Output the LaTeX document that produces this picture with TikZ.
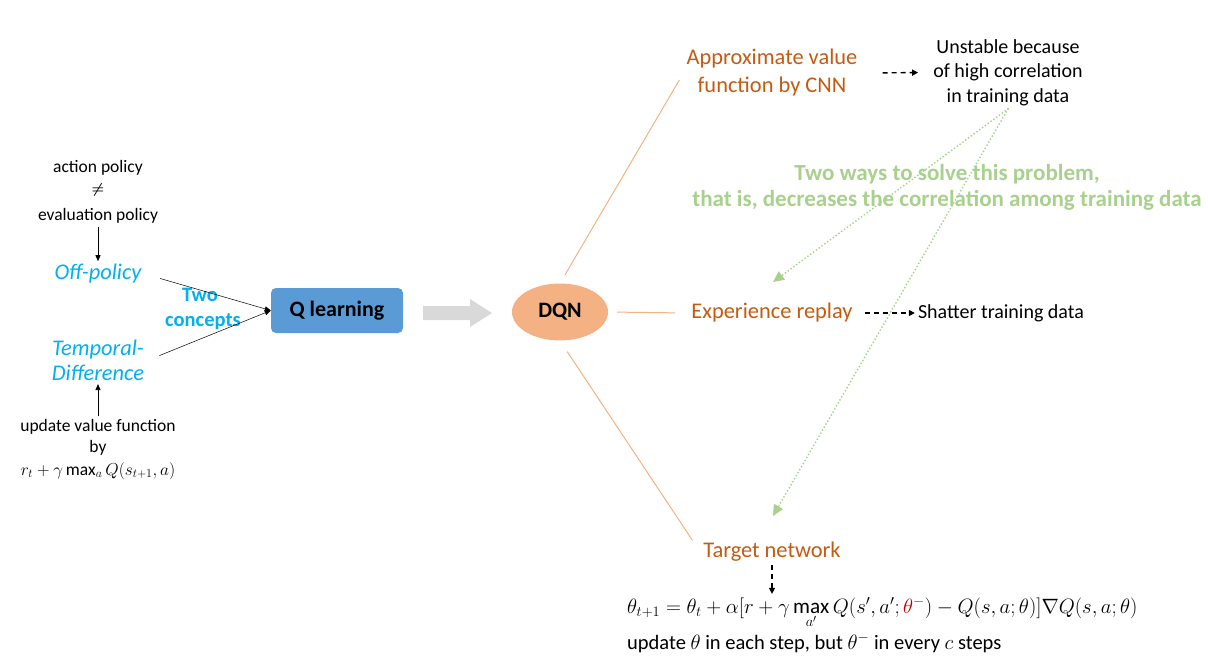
\documentclass[tikz,border=0pt]{standalone}
\usepackage{fontspec}
\setmainfont{Carlito}
\usepackage{amsmath}
\usetikzlibrary{arrows.meta,shapes.geometric}
\definecolor{qblue}{HTML}{5B9BD5}
\definecolor{cblue}{HTML}{00B0F0}
\definecolor{dqnor}{HTML}{F4B183}
\definecolor{otxt}{HTML}{C55A11}
\definecolor{oln}{HTML}{F4B183}
\definecolor{grn}{HTML}{A9D18E}
\definecolor{gry}{HTML}{D9D9D9}
\definecolor{thred}{HTML}{C00000}
\tikzset{
  smalltxt/.style={font=\fontsize{17.5}{23.5}\selectfont, inner sep=3pt},
  concept/.style={font=\fontsize{22.4}{25}\selectfont\itshape, text=cblue, inner sep=3pt, align=center},
  twotxt/.style={font=\fontsize{20.5}{27}\selectfont\bfseries, text=cblue, inner sep=0pt},
  qbox/.style={fill=qblue, rounded corners=5pt, minimum width=132pt, minimum height=45pt, font=\fontsize{22}{26}\selectfont\bfseries, inner sep=0pt},
  dqnnode/.style={ellipse, fill=dqnor, minimum width=96pt, minimum height=57pt, font=\fontsize{22}{26}\selectfont\bfseries, inner sep=0pt},
  otext/.style={font=\fontsize{22.4}{28}\selectfont, text=otxt, align=center, inner sep=3pt},
  btext/.style={font=\fontsize{20}{24.5}\selectfont, align=center, inner sep=3pt},
  gtext/.style={font=\fontsize{23}{26}\selectfont\bfseries, text=grn, align=center, inner sep=0pt},
  blkarrow/.style={-{Triangle[length=6pt,width=5pt]}, line width=0.8pt},
  thinarrow/.style={-{Triangle[length=6pt,width=5pt]}, line width=0.5pt},
  dasharrow/.style={-{Triangle[length=6pt,width=6pt]}, line width=1.4pt, dash pattern=on 5pt off 4pt},
  oline/.style={draw=oln, line width=1pt},
  gdots/.style={draw=grn, line width=2pt, dash pattern=on 0pt off 3.5pt, line cap=round, -{Triangle[length=11pt,width=10pt,line cap=butt,fill=grn]}},
}
\begin{document}
\begin{tikzpicture}[x=1pt,y=-1pt]
\useasboundingbox (0,0) rectangle (1208,662);

% left column
\node[smalltxt] (ap) at (98,168) {action policy};
\node[smalltxt] (ne) at (98,190) {\fontsize{14}{15}\selectfont$\boldsymbol{\neq}$};
\node[smalltxt] (ep) at (98,216) {evaluation policy};
\node[concept] (off) at (98,274) {Off-policy};
\node[concept] (td) at (98,360.5) {Temporal-\\Difference};
\node[smalltxt] (up1) at (98,427) {update value function};
\node[smalltxt] (up2) at (98,448) {by};
\node[smalltxt] (up3) at (98,471) {$r_t+\gamma\max_a Q(s_{t+1},a)$};

\draw[blkarrow] (ep.south) -- (off.north);
\draw[blkarrow] (up1.north) -- (td.south);

\node[twotxt] (two) at (200,295) {Two};
\node[twotxt] (conc) at (203,322) {concepts};

\node[qbox] (q) at (337,310.5) {Q learning};

\draw[thinarrow, shorten <=16pt] (off.east) -- (q.west);
\draw[thinarrow, shorten <=13pt] (td.east) -- (q.west);

% gray block arrow
\fill[gry] (423,306) -- (470,306) -- (470,299) -- (492,313) -- (470,327) -- (470,320) -- (423,320) -- cycle;

\node[dqnnode] (dqn) at (560,312) {DQN};

% right column
\node[otext] (cnn) at (772,73) {Approximate value\\function by CNN};
\node[otext] (er) at (772,313) {Experience replay};
\node[otext] (tn) at (772,552) {Target network};

\draw[oline, shorten <=10pt, shorten >=8pt] (dqn.north) -- (cnn.west);
\draw[oline, shorten <=9pt, shorten >=13pt] (dqn.east) -- (er.west);
\draw[oline, shorten <=13pt, shorten >=14pt] (dqn.south) -- (tn.west);

\node[btext] (un) at (1008,72.5) {Unstable because\\of high correlation\\in training data};
\node[btext] (sh) at (1001,313) {Shatter training data};

\draw[dasharrow, shorten <=22pt, shorten >=12pt] (cnn.east) -- (un.west);
\draw[dasharrow, shorten <=9pt] (er.east) -- (sh.west);

\node[gtext] (tw) at (947,187) {Two ways to solve this problem,\\that is, decreases the correlation among training data};

\coordinate (g1) at (773,282);
\coordinate (g2) at (773,516);
\draw[gdots] (un.south) -- (g1);
\draw[gdots] (un.south) -- (g2);

\node[anchor=west, font=\fontsize{21.2}{24}\selectfont, inner sep=3pt] (form) at (624,613)
  {$\theta_{t+1}=\theta_t+\alpha[r+\gamma\max\limits_{a'}Q(s',a';\textcolor{thred}{\theta^-})-Q(s,a;\theta)]\nabla Q(s,a;\theta)$};
\node[anchor=west, font=\fontsize{20.5}{24}\selectfont, inner sep=3pt] (upd) at (624,643)
  {update $\theta$ in each step, but $\theta^-$ in every $c$ steps};

\draw[dasharrow] (tn.south) -- (tn.south |- form.north);
\end{tikzpicture}
\end{document}
